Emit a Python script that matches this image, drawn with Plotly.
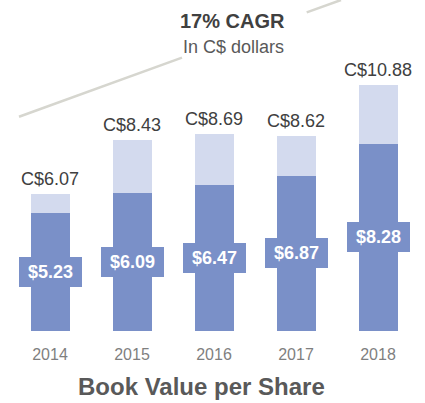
import plotly.graph_objects as go

years = ["2014", "2015", "2016", "2017", "2018"]
book_value = [5.23, 6.09, 6.47, 6.87, 8.28]
total_value = [6.07, 8.43, 8.69, 8.62, 10.88]
top_part = [round(t - b, 2) for t, b in zip(total_value, book_value)]
total_labels = ["C$6.07", "C$8.43", "C$8.69", "C$8.62", "C$10.88"]
inner_labels = ["$5.23", "$6.09", "$6.47", "$6.87", "$8.28"]

DARK = "#7a90c8"
LIGHT = "#d3daee"
FONT = "Arial, Liberation Sans, sans-serif"

W, H = 425, 403
ML, MR, MT, MB = 9, 6, 0, 72
PW, PH = W - ML - MR, H - MT - MB
SCALE = 22.63  # px per unit

xpos = list(range(len(years)))

fig = go.Figure()
fig.add_trace(go.Bar(x=xpos, y=book_value, marker=dict(color=DARK, line=dict(width=0)),
                     hoverinfo="skip"))
fig.add_trace(go.Bar(x=xpos, y=top_part, marker=dict(color=LIGHT, line=dict(width=0)),
                     hoverinfo="skip"))

annotations = []
for i, tot, lab in zip(xpos, total_value, total_labels):
    annotations.append(dict(x=i, y=tot, xref="x", yref="y", text=lab, showarrow=False,
                            yanchor="middle", yshift=15,
                            font=dict(family=FONT, size=18, color="#404040")))
for i, bv, lab in zip(xpos, book_value, inner_labels):
    annotations.append(dict(x=i, y=bv / 2, xref="x", yref="y", text="<b>%s</b>" % lab,
                            showarrow=False, yanchor="middle", bgcolor=DARK,
                            width=53, height=20, borderpad=4, borderwidth=1,
                            bordercolor=DARK,
                            font=dict(family=FONT, size=18, color="white")))

def px(xp):
    return (xp - ML) / PW

def py(yp):
    return (MT + PH - yp) / PH

annotations.append(dict(x=px(232.5), y=py(21), xref="paper", yref="paper",
                        text="<b>17% CAGR</b>", showarrow=False, yanchor="middle",
                        font=dict(family=FONT, size=20, color="#404040")))
annotations.append(dict(x=px(233), y=py(47), xref="paper", yref="paper",
                        text="In C$ dollars", showarrow=False, yanchor="middle",
                        font=dict(family=FONT, size=18, color="#595959")))
annotations.append(dict(x=px(201), y=py(386), xref="paper", yref="paper",
                        text="<b>Book Value per Share</b>", showarrow=False,
                        yanchor="middle",
                        font=dict(family=FONT, size=24, color="#595959")))

line_style = dict(color="#d6d6cf", width=2.5)
shapes = [
    dict(type="line", xref="paper", yref="paper", x0=px(19), y0=py(116.7),
         x1=px(182), y1=py(57.6), line=line_style),
    dict(type="line", xref="paper", yref="paper", x0=px(306.7), y0=py(12.4),
         x1=px(341), y1=py(0), line=line_style),
]

fig.update_layout(
    width=W, height=H,
    margin=dict(l=ML, r=MR, t=MT, b=MB, pad=0),
    barmode="stack", bargap=1 - 39 / 82,
    showlegend=False,
    plot_bgcolor="white", paper_bgcolor="white",
    annotations=annotations, shapes=shapes,
    xaxis=dict(range=[-0.5, 4.5], tickvals=xpos, ticktext=years,
               showgrid=False, zeroline=False, showline=False,
               ticks="outside", ticklen=9, tickcolor="rgba(0,0,0,0)",
               tickfont=dict(family=FONT, size=16, color="#7f7f7f"), fixedrange=True),
    yaxis=dict(range=[0, PH / SCALE], visible=False, fixedrange=True),
)

fig.write_html("out.html", config={"displayModeBar": False},
               post_script="document.body.style.margin='0';document.body.style.overflow='hidden';")
